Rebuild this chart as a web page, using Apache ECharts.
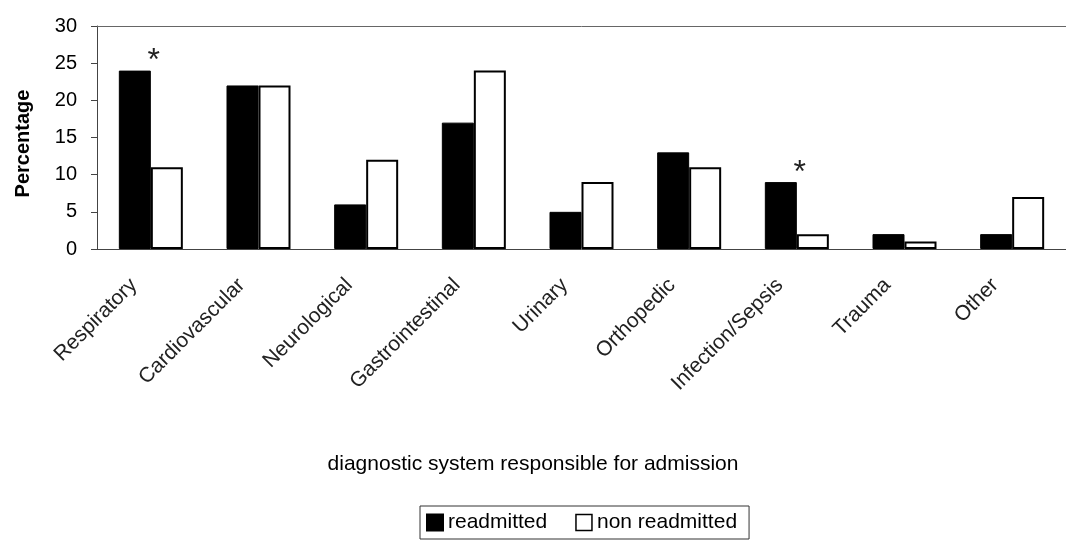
<!DOCTYPE html>
<html>
<head>
<meta charset="utf-8">
<script src="https://cdn.jsdelivr.net/npm/echarts@6/dist/echarts.min.js"></script>
<style>
  html, body { margin: 0; padding: 0; background: #fff; }
  #chart { width: 1066px; height: 543px; }
</style>
</head>
<body>
<div id="chart"></div>
<script>
  // categories and values
  const categories = ['Respiratory', 'Cardiovascular', 'Neurological', 'Gastrointestinal',
    'Urinary', 'Orthopedic', 'Infection/Sepsis', 'Trauma', 'Other']
  const readmitted = [24, 22, 6, 17, 5, 13, 9, 2, 2]
  const nonReadmitted = [11, 22, 12, 24, 9, 11, 2, 1, 7]
  const starred = ['Respiratory', 'Infection/Sepsis']

  const chart = echarts.init(document.getElementById('chart'))
  const font = 'Liberation Sans, Arial, sans-serif'

  const readData = readmitted.map(function (v, i) {
    if (starred.indexOf(categories[i]) < 0) return v
    return {
      value: v,
      label: {
        show: true,
        formatter: '*',
        position: 'top',
        offset: [19, 12],
        fontSize: 32,
        color: '#222',
        fontFamily: font
      }
    }
  })

  chart.setOption({
    backgroundColor: '#fff',
    animation: false,
    textStyle: { fontFamily: font },
    title: {
      text: 'diagnostic system responsible for admission',
      left: 'center',
      top: 454,
      padding: 0,
      textStyle: { fontSize: 21, fontWeight: 'normal', color: '#000', fontFamily: font }
    },
    grid: {
      left: 97,
      top: 26,
      width: 977,
      bottom: 294
    },
    legend: {
      left: 420,
      top: 506,
      itemWidth: 16,
      itemHeight: 16,
      itemGap: 28,
      padding: [6, 12, 6, 6],
      borderColor: '#333',
      borderWidth: 1,
      textStyle: { fontSize: 21, color: '#000', fontFamily: font },
      data: [
        { name: 'readmitted', icon: 'rect', itemStyle: { color: '#000' } },
        { name: 'non readmitted', icon: 'rect', itemStyle: { color: '#fff', borderColor: '#000', borderWidth: 1.5 } }
      ]
    },
    xAxis: [
      {
        type: 'category',
        data: categories,
        axisLine: { lineStyle: { color: '#444', width: 1 } },
        axisTick: { length: 8, lineStyle: { color: '#444' } },
        axisLabel: {
          rotate: 45,
          interval: 0,
          fontSize: 21,
          color: '#222',
          margin: 16,
          padding: [0, 24, 0, 0],
          fontFamily: font
        }
      },
      {
        // plot-area top border
        type: 'category',
        data: categories,
        position: 'top',
        axisLine: { show: true, lineStyle: { color: '#666', width: 1 } },
        axisTick: { show: false },
        axisLabel: { show: false }
      }
    ],
    yAxis: {
      type: 'value',
      min: 0,
      max: 30,
      interval: 5,
      name: 'Percentage',
      nameLocation: 'middle',
      nameGap: 64,
      nameTextStyle: {
        fontSize: 20,
        fontWeight: 'bold',
        color: '#000',
        padding: [0, 12, 0, 0],
        fontFamily: font
      },
      axisLine: { show: true, lineStyle: { color: '#444', width: 1 } },
      axisTick: { show: true, length: 6, lineStyle: { color: '#444' } },
      splitLine: { show: false },
      axisLabel: { fontSize: 20, color: '#000', margin: 20, fontFamily: font }
    },
    series: [
      {
        name: 'readmitted',
        type: 'bar',
        data: readData,
        barWidth: 32,
        barGap: '0%',
        itemStyle: { color: '#000', borderColor: '#000', borderWidth: 1 }
      },
      {
        name: 'non readmitted',
        type: 'bar',
        data: nonReadmitted,
        barWidth: 32,
        barGap: '0%',
        itemStyle: { color: '#fff', borderColor: '#000', borderWidth: 2 }
      }
    ]
  })
</script>
</body>
</html>
